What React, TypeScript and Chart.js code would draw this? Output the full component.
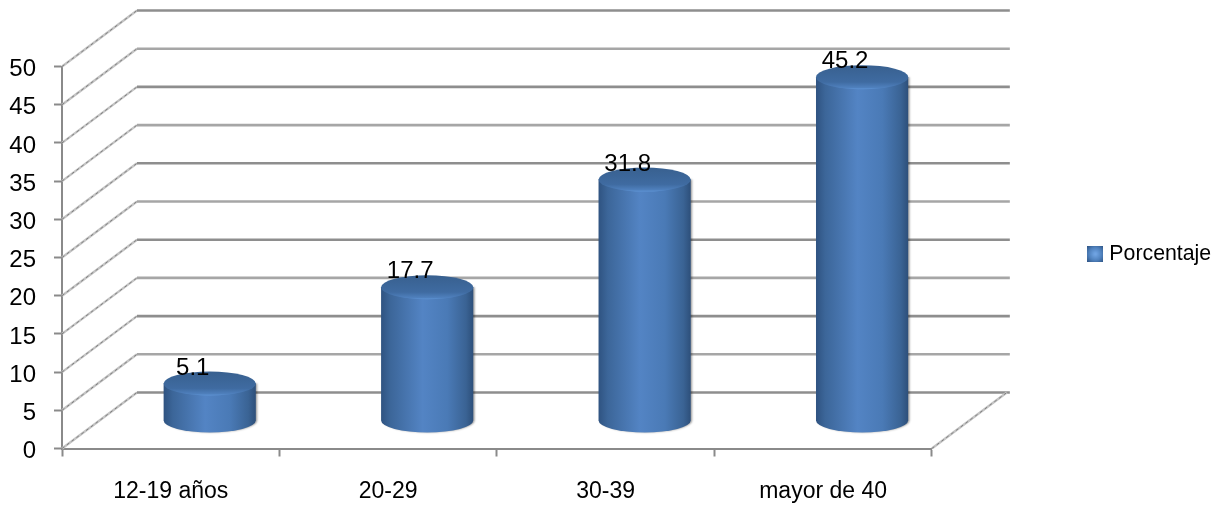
import React, { useEffect, useRef } from "react";
import { Chart, BarController, BarElement, registerables } from "chart.js";

const categories = ["12-19 años", "20-29", "30-39", "mayor de 40"];
const seriesName = "Porcentaje";
const values = [5.1, 17.7, 31.8, 45.2];
const valueLabels = ["5.1", "17.7", "31.8", "45.2"];

const FONT = "'Liberation Sans', Arial, sans-serif";
const WALL_DX = 75;
const WALL_DY = 56;
const BAR_DX = 39;
const BASE_DY = 27.5;
const CAP_DY = 26;
const CAP_RY = 12;

// Bar element drawn as a shaded cylinder standing half-way into the floor.
class CylinderElement extends BarElement {
  static id = "cylinder";
  draw(ctx: CanvasRenderingContext2D) {
    const { x, y, base, width } = (this as any).getProps(["x", "y", "base", "width"]);
    const cx = x + BAR_DX;
    const rx = width / 2;
    const topY = y - CAP_DY;
    const baseY = base - BASE_DY;

    ctx.save();
    const body = ctx.createLinearGradient(cx - rx, 0, cx + rx, 0);
    body.addColorStop(0, "#2f5381");
    body.addColorStop(0.1, "#3c6699");
    body.addColorStop(0.45, "#5384c4");
    body.addColorStop(0.72, "#4a7ab6");
    body.addColorStop(0.92, "#3a6394");
    body.addColorStop(1, "#2d4f7a");
    ctx.shadowColor = "rgba(0,0,0,0.35)";
    ctx.shadowOffsetX = 1.5;
    ctx.shadowBlur = 2;
    ctx.fillStyle = body;
    ctx.beginPath();
    ctx.moveTo(cx - rx, topY);
    ctx.lineTo(cx - rx, baseY);
    ctx.ellipse(cx, baseY, rx, CAP_RY, 0, Math.PI, 0, true);
    ctx.lineTo(cx + rx, topY);
    ctx.closePath();
    ctx.fill();
    ctx.shadowColor = "transparent";

    const cap = ctx.createLinearGradient(0, topY - CAP_RY, 0, topY + CAP_RY);
    cap.addColorStop(0, "#38608f");
    cap.addColorStop(0.7, "#3f6ba1");
    cap.addColorStop(0.93, "#4f80bd");
    cap.addColorStop(1, "#5f95d6");
    ctx.fillStyle = cap;
    ctx.beginPath();
    ctx.ellipse(cx, topY, rx, CAP_RY, 0, 0, Math.PI * 2);
    ctx.fill();
    ctx.restore();
  }
}

class CylinderController extends BarController {
  static id = "cylinderBar";
  static defaults = { ...(BarController as any).defaults, dataElementType: "cylinder" };
}

Chart.register(...registerables, CylinderElement as any, CylinderController as any);

// Small bevelled square used as the legend swatch.
function makeSwatch() {
  const c = document.createElement("canvas");
  c.width = 16;
  c.height = 16;
  const g = c.getContext("2d") as CanvasRenderingContext2D;
  const grad = g.createRadialGradient(8, 8, 1, 8, 8, 11);
  grad.addColorStop(0, "#6fa3e2");
  grad.addColorStop(0.55, "#4f81bd");
  grad.addColorStop(1, "#2f5585");
  g.fillStyle = grad;
  g.fillRect(0, 0, 16, 16);
  return c;
}

// Side walls and back-wall rules of the perspective frame, one per y tick.
const wallPlugin = {
  id: "wall",
  beforeDatasetsDraw(chart: any) {
    const { ctx, scales } = chart;
    const xs = scales.x;
    const ys = scales.y;
    const left = xs.left;
    const right = xs.right;
    const diagonal = (x0: number, y0: number) => {
      ctx.strokeStyle = "#c4c4c4";
      ctx.lineWidth = 2.4;
      ctx.setLineDash([]);
      ctx.beginPath();
      ctx.moveTo(x0, y0);
      ctx.lineTo(x0 + WALL_DX, y0 - WALL_DY);
      ctx.stroke();
      ctx.strokeStyle = "#7f7f7f";
      ctx.lineWidth = 1;
      ctx.setLineDash([3, 3]);
      ctx.stroke();
      ctx.setLineDash([]);
    };
    ctx.save();
    ys.ticks.forEach((t: any, i: number) => {
      const y = ys.getPixelForTick(i);
      diagonal(left, y);
      ctx.strokeStyle = i % 2 ? "#a6a6a6" : "#8e8e8e";
      ctx.lineWidth = 2.6;
      ctx.beginPath();
      ctx.moveTo(left + WALL_DX, y - WALL_DY);
      ctx.lineTo(right + WALL_DX + 3, y - WALL_DY);
      ctx.stroke();
    });
    diagonal(right, ys.getPixelForValue(0));
    ctx.restore();
  },
};

// Value captions printed over each cylinder.
const valueLabelPlugin = {
  id: "valueLabels",
  afterDatasetsDraw(chart: any) {
    const { ctx } = chart;
    const meta = chart.getDatasetMeta(0);
    ctx.save();
    ctx.font = `24px ${FONT}`;
    ctx.fillStyle = "#000";
    ctx.textAlign = "center";
    ctx.textBaseline = "alphabetic";
    meta.data.forEach((bar: any, i: number) => {
      ctx.fillText(valueLabels[i], bar.x + 22, bar.y - 35);
    });
    ctx.restore();
  },
};

// Places the legend in the free column to the right of the frame and
// drops the y tick labels slightly below their tick marks.
const placementPlugin = {
  id: "placement",
  afterLayout(chart: any) {
    const l = chart.legend;
    const w = l.width;
    const h = l.height;
    l.left = 1082;
    l.right = l.left + w;
    l.top = 254 - h / 2;
    l.bottom = l.top + h;
  },
  beforeDraw(chart: any) {
    const items = chart.scales.y.getLabelItems();
    items.forEach((item: any) => {
      if (!item.options.shifted) {
        item.options.translation = [item.options.translation[0], item.options.translation[1] + 3];
        item.options.shifted = true;
      }
    });
  },
};

export default function App() {
  const ref = useRef<HTMLCanvasElement>(null);
  useEffect(() => {
    const chart = new Chart(ref.current as HTMLCanvasElement, {
      type: "cylinderBar" as any,
      data: {
        labels: categories,
        datasets: [
          {
            label: seriesName,
            data: values,
            backgroundColor: "#4f81bd",
            categoryPercentage: 1,
            barPercentage: 0.424,
            clip: false,
          } as any,
        ],
      },
      options: {
        responsive: false,
        animation: false,
        layout: { padding: { top: 66.5, right: 153, left: 0, bottom: 0 } },
        plugins: {
          title: { display: false },
          tooltip: { enabled: false },
          legend: {
            position: "right",
            labels: {
              usePointStyle: true,
              pointStyle: makeSwatch(),
              pointStyleWidth: 6.7,
              padding: 10,
              color: "#000",
              font: { family: FONT, size: 21.3 },
            },
          },
        },
        scales: {
          x: {
            type: "category",
            afterFit: (s: any) => {
              s.height = 57.5;
            },
            border: { color: "#8a8a8a", width: 2 },
            grid: { drawOnChartArea: false, tickLength: 8, tickColor: "#8a8a8a", tickWidth: 2 },
            ticks: { color: "#000", padding: 21, autoSkip: false, maxRotation: 0, font: { family: FONT, size: 23 } },
          },
          y: {
            min: 0,
            max: 50,
            afterFit: (s: any) => {
              s.width = 62;
            },
            border: { color: "#8a8a8a", width: 2 },
            grid: { drawOnChartArea: false, tickLength: 8, tickColor: "#8a8a8a", tickWidth: 2 },
            ticks: { stepSize: 5, color: "#000", padding: 18, font: { family: FONT, size: 24 } },
          },
        },
      } as any,
      plugins: [wallPlugin, valueLabelPlugin, placementPlugin],
    });
    return () => chart.destroy();
  }, []);
  return (
    <div style={{ position: "absolute", left: 0, top: 0, width: 1224, height: 506, background: "#fff" }}>
      <canvas ref={ref} width={1224} height={506} style={{ display: "block" }} />
    </div>
  );
}
